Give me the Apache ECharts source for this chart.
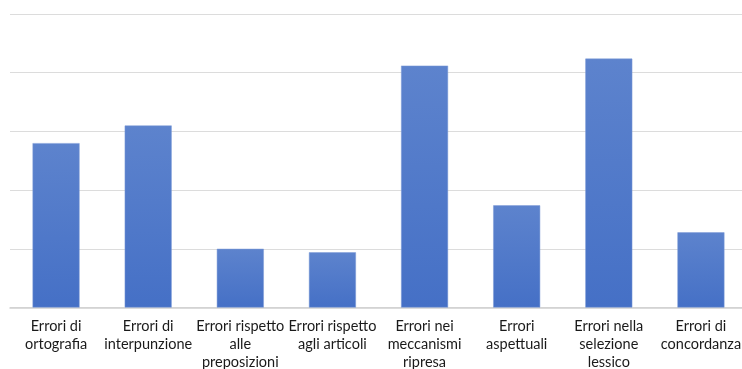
<!DOCTYPE html>
<html>
<head>
<meta charset="utf-8">
<script src="https://cdn.jsdelivr.net/npm/echarts@6/dist/echarts.min.js"></script>
<style>
html,body{margin:0;padding:0;background:#fff;}
#chart{width:742px;height:369px;}
</style>
</head>
<body>
<div id="chart"></div>
<script>
const categories = [
  "Errori di\nortografia",
  "Errori di\ninterpunzione",
  "Errori rispetto\nalle\npreposizioni",
  "Errori rispetto\nagli articoli",
  "Errori nei\nmeccanismi\nripresa",
  "Errori\naspettuali",
  "Errori nella\nselezione\nlessico",
  "Errori di\nconcordanza"
];
const values = [14, 15.5, 5, 4.7, 20.6, 8.7, 21.2, 6.4];
const yMin = 0, yMax = 25, yInterval = 5;

const chart = echarts.init(document.getElementById('chart'), null, {renderer: 'canvas'});
chart.setOption({
  animation: false,
  backgroundColor: '#ffffff',
  grid: {left: 10, top: 14, width: 737, height: 293.5, containLabel: false, outerBoundsMode: 'none'},
  xAxis: {
    type: 'category',
    data: categories,
    axisLine: {show: true, lineStyle: {color: '#d0d0d0', width: 1.5}},
    axisTick: {show: false},
    axisLabel: {
      interval: 0,
      margin: 10,
      color: '#1a1a1a',
      fontFamily: 'Lato',
      fontSize: 14.5,
      lineHeight: 18
    }
  },
  yAxis: {
    type: 'value',
    min: yMin, max: yMax, interval: yInterval,
    axisLine: {show: false},
    axisTick: {show: false},
    axisLabel: {show: false},
    splitLine: {lineStyle: {color: '#dcdcdc', width: 1.2}}
  },
  series: [{
    type: 'bar',
    data: values,
    barWidth: '51%',
    itemStyle: {
      color: new echarts.graphic.LinearGradient(0, 0, 0, 1, [
        {offset: 0, color: '#5d83cd'},
        {offset: 1, color: '#4570c6'}
      ]),
      borderColor: '#7d9bd6',
      borderWidth: 0.5
    }
  }]
});
</script>
</body>
</html>
